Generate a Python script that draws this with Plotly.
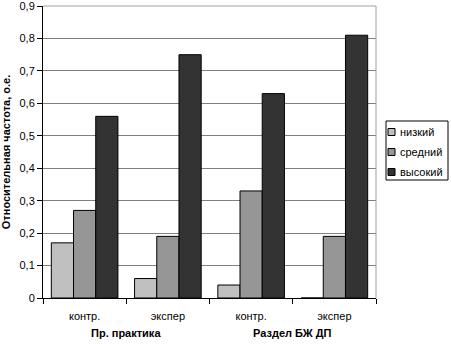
import plotly.graph_objects as go

categories = ["контр.", "экспер", "контр.", "экспер"]
groups = ["Пр. практика", "Раздел БЖ ДП"]
series_names = ["низкий", "средний", "высокий"]
low = [0.17, 0.06, 0.04, 0.0]
mid = [0.27, 0.19, 0.33, 0.19]
high = [0.56, 0.75, 0.63, 0.81]
y_ticks = [0, 0.1, 0.2, 0.3, 0.4, 0.5, 0.6, 0.7, 0.8, 0.9]
y_ticktext = ["0", "0,1", "0,2", "0,3", "0,4", "0,5", "0,6", "0,7", "0,8", "0,9"]

colors = ["#c0c0c0", "#969696", "#333333"]
xpos = list(range(len(categories)))

fig = go.Figure()
for name, vals, c in zip(series_names, [low, mid, high], colors):
    fig.add_trace(go.Bar(x=xpos, y=vals, name=name, showlegend=False,
                         marker=dict(color=c, line=dict(color="black", width=1))))

W, H = 451, 344
ml, mr, mt, mb = 43, 75, 6, 46
pw, ph = W - ml - mr, H - mt - mb

def px_x(p):
    return (p - ml) / pw

def px_y(p):
    return (H - mb - p) / ph

font = dict(family="Liberation Sans, Arial, sans-serif", size=11, color="black")
fig.update_layout(
    width=W, height=H,
    margin=dict(l=ml, r=mr, t=mt, b=mb, autoexpand=False),
    paper_bgcolor="white", plot_bgcolor="white",
    barmode="group", bargap=0.2, bargroupgap=0,
    font=font,
    showlegend=False,
    xaxis=dict(range=[-0.5, 3.5], tickvals=xpos, ticktext=categories, ticks="",
               showline=True, linecolor="black", linewidth=1, showgrid=False,
               zeroline=False, ticklabelstandoff=8,
               minor=dict(tickvals=[-0.5, 0.5, 1.5, 2.5, 3.5], ticks="outside",
                          ticklen=5, tickcolor="black", showgrid=False),
               tickfont=dict(size=11)),
    yaxis=dict(range=[0, 0.9001], tickvals=y_ticks, ticktext=y_ticktext,
               ticks="outside", ticklen=5, tickcolor="black", ticklabeloverflow="allow",
               showline=True, linecolor="black", linewidth=1,
               showgrid=True, gridcolor="#808080", gridwidth=1, zeroline=False,
               title=dict(text="<b>Относительная частота, о.е.</b>", font=dict(size=11), standoff=8),
               tickfont=dict(size=11)),
)

fig.add_shape(type="line", xref="paper", yref="paper", x0=0, x1=1, y0=1, y1=1,
              line=dict(color="#a0a0a0", width=1))
fig.add_shape(type="line", xref="paper", yref="paper", x0=1, x1=1, y0=0, y1=1,
              line=dict(color="#a0a0a0", width=1))

for i, g in enumerate(groups):
    fig.add_annotation(x=2 * i + 0.5, y=px_y(333), xref="x", yref="paper", text="<b>" + g + "</b>",
                       showarrow=False, font=dict(size=11), yanchor="middle")

# legend box
fig.add_shape(type="rect", xref="paper", yref="paper",
              x0=px_x(386), x1=px_x(448), y0=px_y(121), y1=px_y(180),
              line=dict(color="black", width=1), fillcolor="white", layer="above")
for k, (name, c) in enumerate(zip(series_names, colors)):
    cy = 132 + 20 * k
    fig.add_shape(type="rect", xref="paper", yref="paper",
                  x0=px_x(388), x1=px_x(395), y0=px_y(cy - 3.5), y1=px_y(cy + 3.5),
                  line=dict(color="black", width=1), fillcolor=c, layer="above")
    fig.add_annotation(x=px_x(398), y=px_y(cy), xref="paper", yref="paper", text=name,
                       showarrow=False, xanchor="left", yanchor="middle", font=dict(size=11))

fig.write_html("out.html", config={"displayModeBar": False},
               post_script="document.body.style.margin='0';document.body.style.overflow='hidden';")
